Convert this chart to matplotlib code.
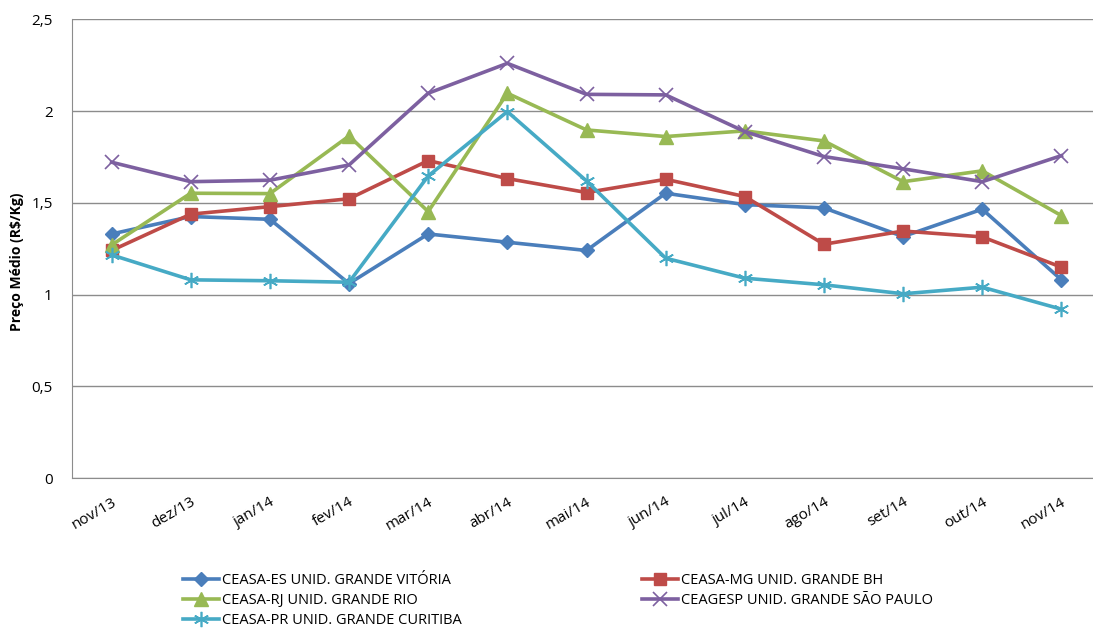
import matplotlib.pyplot as plt
from matplotlib.ticker import FuncFormatter

meses = ["nov/13", "dez/13", "jan/14", "fev/14", "mar/14", "abr/14", "mai/14",
         "jun/14", "jul/14", "ago/14", "set/14", "out/14", "nov/14"]

es = [1.33, 1.425, 1.41, 1.06, 1.33, 1.285, 1.24, 1.552, 1.49, 1.472, 1.316, 1.465, 1.08]
mg = [1.24, 1.438, 1.479, 1.522, 1.73, 1.632, 1.556, 1.628, 1.534, 1.274, 1.346, 1.314, 1.149]
rj = [1.27, 1.552, 1.55, 1.864, 1.452, 2.097, 1.897, 1.861, 1.892, 1.837, 1.615, 1.674, 1.43]
sp = [1.721, 1.615, 1.623, 1.706, 2.097, 2.26, 2.091, 2.088, 1.888, 1.752, 1.685, 1.615, 1.757]
pr = [1.216, 1.08, 1.075, 1.067, 1.646, 1.997, 1.619, 1.198, 1.089, 1.053, 1.004, 1.04, 0.92]

nomes = ["CEASA-ES UNID. GRANDE VITÓRIA", "CEASA-MG UNID. GRANDE BH",
         "CEASA-RJ UNID. GRANDE RIO", "CEAGESP UNID. GRANDE SÃO PAULO",
         "CEASA-PR UNID. GRANDE CURITIBA"]

plt.rcParams["font.family"] = ["Open Sans", "DejaVu Sans"]

W, H = 1093, 630
fig = plt.figure(figsize=(W / 100, H / 100), dpi=100)
ax = fig.add_axes([72 / W, 1 - 478 / H, 1029 / W, (478 - 19.3) / H])

x = list(range(len(meses)))
estilos = [
    (es, "#4A7EBB", dict(marker="D", markersize=7)),
    (mg, "#BE4B48", dict(marker="s", markersize=9)),
    (rj, "#98B954", dict(marker="^", markersize=10)),
    (sp, "#7D60A0", dict(marker="x", markersize=10, markeredgewidth=1.2)),
    (pr, "#46AAC5", dict(marker=(6, 2, 0), markersize=11, markeredgewidth=1.2)),
]
linhas = []
for (vals, cor, mk), nome in zip(estilos, nomes):
    ln, = ax.plot(x, vals, color=cor, lw=2.6, label=nome,
                  markerfacecolor=cor, markeredgecolor=cor, **mk)
    linhas.append(ln)

ax.set_xlim(-0.5, len(meses) - 0.5)
ax.set_ylim(0, 2.5)
ax.set_yticks([0, 0.5, 1, 1.5, 2, 2.5])
ax.yaxis.set_major_formatter(FuncFormatter(lambda v, p: f"{v:g}".replace(".", ",")))
ax.yaxis.grid(True, color="#8C8C8C", lw=1)
ax.set_axisbelow(True)
ax.set_xticks(x)
ax.set_xticklabels(meses, rotation=30, ha="right", rotation_mode="anchor")
ax.tick_params(axis="both", length=0, labelsize=11)
ax.tick_params(axis="x", pad=12)
ax.tick_params(axis="y", pad=14)
for s in ["top", "right"]:
    ax.spines[s].set_visible(False)
for s in ["left", "bottom"]:
    ax.spines[s].set_color("#8C8C8C")

fig.text(17 / W, 1 - 262 / H, "Preço Médio (R$/Kg)", rotation=90, fontsize=10,
         fontweight="bold", ha="center", va="center")

ordem = [0, 2, 4, 1, 3]
fig.legend([linhas[i] for i in ordem], [nomes[i] for i in ordem], ncol=2,
           loc="upper left", bbox_to_anchor=(183 / W, 1 - 573 / H), frameon=False,
           fontsize=10.5, numpoints=1, handlelength=2.5, handletextpad=0.2,
           columnspacing=12.3, labelspacing=0.34, borderpad=0, borderaxespad=0)

fig.savefig("out.png", dpi=100)
plt.close(fig)
